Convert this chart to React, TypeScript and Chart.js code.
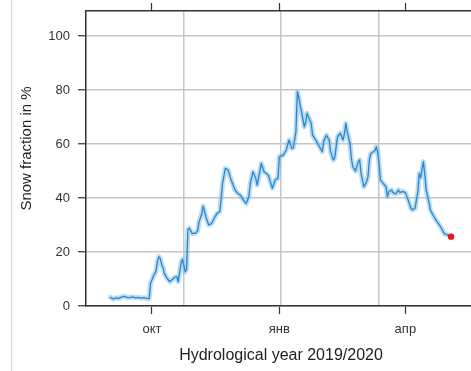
import React, { useEffect, useRef } from "react";
import { Chart, registerables } from "chart.js";

Chart.register(...registerables);

// Days since 1 Oct 2019 (hydrological year 2019/2020)
const dayOffsets = [
  -30, -28, -26, -24, -22, -20, -18, -16, -14, -12, -10, -8, -6, -4, -2, -1,
  1, 3, 4, 5, 6, 7, 8, 9, 11, 13, 15, 17, 18, 19, 21, 22, 23, 24, 25, 26, 27,
  29, 31, 33, 34, 36, 37, 39, 41, 43, 45, 47, 49, 50, 51, 53, 55, 57, 60, 62,
  64, 66, 68, 70, 71, 73, 75, 76, 79, 81, 84, 87, 89, 91, 92, 95, 97, 99, 101,
  102, 104, 105, 106, 107, 108, 110, 111, 112, 113, 115, 116, 119, 121, 123,
  124, 126, 128, 129, 131, 132, 134, 136, 138, 139, 140, 141, 143, 144, 145,
  147, 149, 150, 151, 152, 153, 155, 156, 157, 158, 161, 162, 163, 164, 165,
  167, 169, 170, 171, 173, 174, 176, 178, 179, 181, 183, 185, 187, 188, 190,
  192, 193, 194, 196, 197, 198, 200, 201, 203, 205, 207, 209, 211, 214, 216,
];

const snowFraction = [
  3.2, 2.6, 3.0, 2.8, 3.3, 3.6, 3.2, 3.1, 3.4, 3.0, 3.2, 2.9, 3.1, 2.8, 2.7, 8.4,
  10.9, 13.1, 16.5, 18.3, 17.6, 15.5, 14.3, 12.0, 10.2, 9.0, 10.0, 10.8, 10.9, 9.0, 15.8, 17.3, 15.2, 12.7, 13.5, 28.4, 28.8,
  26.9, 26.9, 27.8, 31.2, 34.0, 37.0, 33.0, 30.0, 30.5, 32.5, 34.3, 34.9, 40.0, 45.4, 51.0, 50.4, 47.0, 43.0, 41.7,
  41.0, 39.3, 38.0, 40.5, 45.4, 49.7, 47.3, 44.8, 52.8, 49.7, 48.5, 43.6, 46.7, 47.3, 55.3, 56.0, 57.8, 61.5, 58.4,
  58.5, 64.6, 79.4, 77.5, 74.4, 72.0, 66.4, 68.0, 71.4, 70.0, 67.7, 63.3, 60.9, 59.0, 57.2,
  61.0, 63.3, 61.5, 57.2, 54.1, 55.0, 62.7, 64.0, 61.5, 64.0, 67.7, 64.5, 60.2, 54.7, 51.6,
  50.0, 53.5, 54.1, 49.1, 46.7, 44.2, 46.0, 47.9, 54.1, 56.5, 57.5, 59.0, 57.0, 52.8, 46.7,
  45.4, 44.2, 40.5, 42.3, 43.0, 42.0, 41.5, 43.0, 42.0, 42.5, 42.0, 39.3, 36.2, 35.6, 36.2,
  42.3, 49.1, 47.5, 53.5, 49.0, 43.0, 38.6, 35.6, 33.7, 31.9, 30.5, 28.8, 26.9, 26.2, 25.7,
];

const monthTickDays = [0, 92, 183];
const monthLabels = ["окт", "янв", "апр"];
const yTickValues = [0, 20, 40, 60, 80, 100];
const xMin = -47.6;
const xMax = 234;
const yMin = 0;
const yMax = 109.3;
const xTitle = "Hydrological year 2019/2020";
const yTitle = "Snow fraction in %";

const FONT = "'Liberation Sans', Arial, Helvetica, sans-serif";

export default function App() {
  const canvasRef = useRef<HTMLCanvasElement | null>(null);

  useEffect(() => {
    const canvas = canvasRef.current;
    if (!canvas) return;
    const points = dayOffsets.map((d, i) => ({ x: d, y: snowFraction[i] }));
    const last = points[points.length - 1];

    const yTitlePlugin = {
      id: "yTitlePlugin",
      afterDraw(chart: any) {
        const { ctx, chartArea } = chart;
        ctx.save();
        ctx.translate(27, (chartArea.top + chartArea.bottom) / 2 - 10);
        ctx.rotate(-Math.PI / 2);
        ctx.textAlign = "center";
        ctx.textBaseline = "middle";
        ctx.font = `15px ${FONT}`;
        ctx.fillStyle = "#222";
        ctx.fillText(yTitle, 0, 0);
        ctx.restore();
      },
    };

    const monthTicks = (s: any) => {
      s.ticks = monthTickDays.map((v) => ({ value: v }));
    };

    const chart = new Chart(canvas, {
      type: "line",
      data: {
        datasets: [
          {
            label: "latest",
            data: [last],
            showLine: false,
            pointRadius: 3.2,
            pointBackgroundColor: "#e8141c",
            pointBorderColor: "#e8141c",
            pointBorderWidth: 0,
            xAxisID: "x",
            yAxisID: "y",
          },
          {
            label: "snow",
            data: points,
            borderColor: "#2c86cc",
            borderWidth: 1.3,
            borderJoinStyle: "round",
            pointRadius: 0,
            tension: 0,
            xAxisID: "x",
            yAxisID: "y",
          },
          {
            label: "halo",
            data: points,
            borderColor: "rgba(120,185,235,0.5)",
            borderWidth: 5,
            borderJoinStyle: "round",
            borderCapStyle: "round",
            pointRadius: 0,
            tension: 0,
            xAxisID: "x",
            yAxisID: "y",
          },
        ],
      },
      options: {
        animation: false,
        responsive: false,
        events: [],
        layout: { padding: { left: 0, right: 4, top: 0, bottom: 0 } },
        plugins: {
          legend: { display: false },
          tooltip: { enabled: false },
        },
        scales: {
          x: {
            type: "linear",
            position: "bottom",
            min: xMin,
            max: xMax,
            afterBuildTicks: monthTicks,
            afterFit: (s: any) => {
              s.height = 65;
              s.paddingLeft = 0;
              s.paddingRight = 0;
            },
            ticks: {
              autoSkip: false,
              maxRotation: 0,
              padding: 8,
              color: "#333",
              font: { size: 13, family: FONT },
              callback: (v: any) => {
                const i = monthTickDays.indexOf(Number(v));
                return i >= 0 ? monthLabels[i] : "";
              },
            },
            grid: {
              drawOnChartArea: false,
              drawTicks: true,
              tickLength: 8,
              tickColor: "#333",
              tickWidth: 1.2,
            },
            border: { display: true, color: "#333", width: 1.5 },
            title: {
              display: true,
              text: xTitle,
              color: "#222",
              font: { size: 16, family: FONT },
              padding: { top: 0, bottom: 6 },
            },
          },
          xGrid: {
            type: "linear",
            position: "bottom",
            min: xMin,
            max: xMax,
            afterBuildTicks: (s: any) => {
              const step = (xMax - xMin) / 4;
              s.ticks = [1, 2, 3].map((k) => ({ value: xMin + k * step }));
            },
            afterFit: (s: any) => {
              s.height = 0;
            },
            ticks: { display: false },
            grid: { drawTicks: false, color: "#c6c6c6", lineWidth: 1.5 },
            border: { display: false },
          },
          xTop: {
            type: "linear",
            position: "top",
            min: xMin,
            max: xMax,
            afterBuildTicks: monthTicks,
            afterFit: (s: any) => {
              s.height = 11;
            },
            ticks: { display: false },
            grid: {
              drawOnChartArea: false,
              drawTicks: true,
              tickLength: 8,
              tickColor: "#333",
              tickWidth: 1.2,
            },
            border: { display: true, color: "#333", width: 1.5 },
          },
          y: {
            type: "linear",
            position: "left",
            min: yMin,
            max: yMax,
            afterBuildTicks: (s: any) => {
              s.ticks = yTickValues.map((v) => ({ value: v }));
            },
            afterFit: (s: any) => {
              s.width = 86;
              s.paddingTop = 0;
              s.paddingBottom = 0;
            },
            ticks: {
              padding: 8,
              color: "#333",
              font: { size: 13, family: FONT },
            },
            grid: {
              color: "#c6c6c6",
              lineWidth: 1.5,
              tickColor: "#333",
              tickLength: 8,
              tickWidth: 1.2,
            },
            border: { display: true, color: "#333", width: 1.5 },
          },
        },
      },
      plugins: [yTitlePlugin],
    });

    return () => {
      chart.destroy();
    };
  }, []);

  return (
    <div
      style={{
        position: "absolute",
        left: 0,
        top: 0,
        width: 471,
        height: 371,
        overflow: "hidden",
        background: "#fff",
      }}
    >
      <canvas
        ref={canvasRef}
        width={480}
        height={371}
        style={{ display: "block", width: 480, height: 371 }}
      />
      <div
        style={{
          position: "absolute",
          left: 11,
          top: 0,
          width: 1,
          height: 371,
          background: "#d4d4d4",
        }}
      />
    </div>
  );
}
